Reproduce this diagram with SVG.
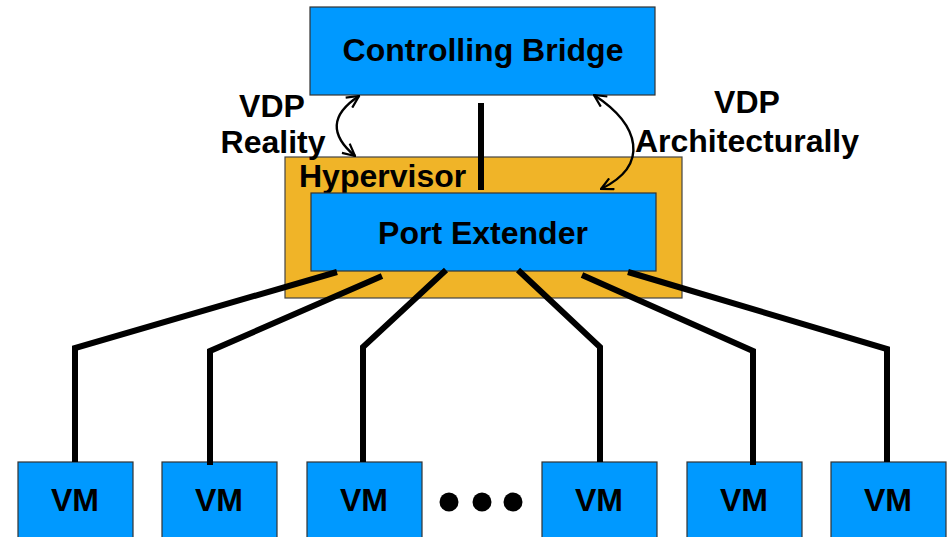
<svg xmlns="http://www.w3.org/2000/svg" width="947" height="537" viewBox="0 0 947 537">
  <defs>
    <marker id="open" viewBox="0 0 14 14" refX="13" refY="7" markerWidth="14" markerHeight="14" markerUnits="userSpaceOnUse" orient="auto-start-reverse">
      <path d="M1,1 L13,7 L1,13" fill="none" stroke="#000" stroke-width="2.2"/>
    </marker>
  </defs>
  <style>
    .blue { fill: #0099FF; stroke: #333; stroke-width: 1.2; }
    .host { fill: #F0B428; stroke: #444; stroke-width: 1.2; }
    .lbl { font-family: "Liberation Sans", Arial, sans-serif; font-weight: bold; font-size: 32px; fill: #000; }
    .mid { text-anchor: middle; }
    .wire { fill: none; stroke: #000; stroke-width: 6; stroke-linejoin: miter; }
    .curve { fill: none; stroke: #000; stroke-width: 2.4; }
  </style>
  <rect width="947" height="537" fill="#fff"/>

  <g id="hypervisor">
    <rect class="host" x="285" y="157" width="397" height="141"/>
    <text class="lbl" x="299" y="187">Hypervisor</text>
  </g>

  <g id="controlling-bridge">
    <rect class="blue" x="310" y="7" width="345" height="88"/>
    <text class="lbl mid" x="483" y="61">Controlling Bridge</text>
  </g>

  <g id="port-extender">
    <rect class="blue" x="311" y="193" width="345" height="78"/>
    <text class="lbl mid" x="483" y="244">Port Extender</text>
  </g>

  <g id="vm1"><rect class="blue" x="18" y="462" width="115" height="80"/><text class="lbl mid" x="75" y="511">VM</text></g>
  <g id="vm2"><rect class="blue" x="162" y="462" width="115" height="80"/><text class="lbl mid" x="219" y="511">VM</text></g>
  <g id="vm3"><rect class="blue" x="307" y="462" width="115" height="80"/><text class="lbl mid" x="364" y="511">VM</text></g>
  <g id="vm4"><rect class="blue" x="542" y="462" width="115" height="80"/><text class="lbl mid" x="599" y="511">VM</text></g>
  <g id="vm5"><rect class="blue" x="687" y="462" width="115" height="80"/><text class="lbl mid" x="744" y="511">VM</text></g>
  <g id="vm6"><rect class="blue" x="831" y="462" width="115" height="80"/><text class="lbl mid" x="888" y="511">VM</text></g>

  <g id="ellipsis">
    <circle cx="449" cy="502" r="9.5"/>
    <circle cx="482" cy="502" r="9.5"/>
    <circle cx="513" cy="502" r="9.5"/>
  </g>

  <g id="labels">
    <text class="lbl mid" x="272" y="117">VDP</text>
    <text class="lbl mid" x="273" y="153">Reality</text>
    <text class="lbl mid" x="747" y="113">VDP</text>
    <text class="lbl mid" x="747" y="152">Architecturally</text>
  </g>

  <g id="connectors">
    <line class="wire" x1="481" y1="103" x2="481" y2="190" stroke-width="7"/>
    <polyline class="wire" points="337,272 75,348 75,462"/>
    <polyline class="wire" points="382,276 210,351 210,465"/>
    <polyline class="wire" points="446,270 363,347 363,462"/>
    <polyline class="wire" points="518,270 600,347 600,462"/>
    <polyline class="wire" points="582,275 753,351 753,465"/>
    <polyline class="wire" points="628,272 887,349 887,462"/>
    <path class="curve" d="M359,96 C330,115 330,135 355,156" marker-start="url(#open)" marker-end="url(#open)"/>
    <path class="curve" d="M594,95 C640,125 650,165 601,189" marker-start="url(#open)" marker-end="url(#open)"/>
  </g>
</svg>
